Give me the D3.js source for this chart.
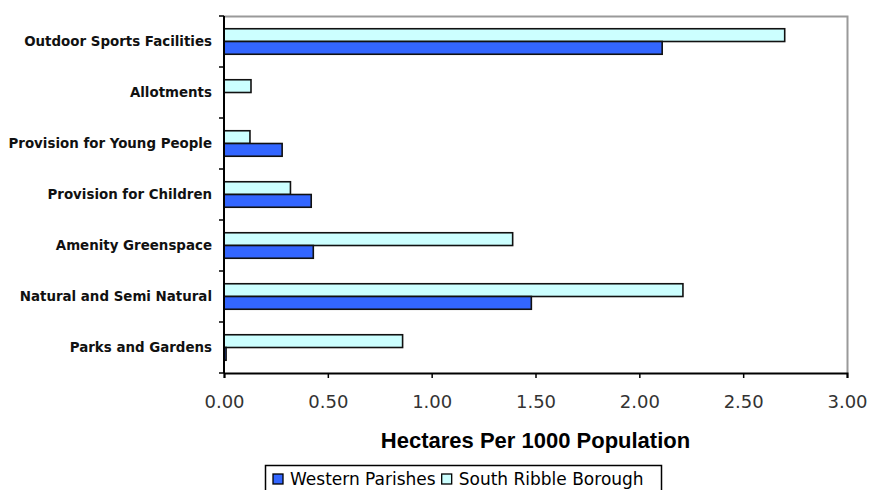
<!DOCTYPE html>
<html>
<head>
<meta charset="utf-8">
<script src="https://cdn.jsdelivr.net/npm/d3@7"></script>
<style>
  html, body { margin: 0; padding: 0; background: #fff; }
  svg { display: block; }
</style>
</head>
<body>
<svg id="chart" width="870" height="490"></svg>
<script>
const categories = [
  "Outdoor Sports Facilities",
  "Allotments",
  "Provision for Young People",
  "Provision for Children",
  "Amenity Greenspace",
  "Natural and Semi Natural",
  "Parks and Gardens"
];
const seriesNames = ["South Ribble Borough", "Western Parishes"];
const southRibble = [2.70, 0.13, 0.125, 0.32, 1.39, 2.21, 0.86];
const westernParishes = [2.11, 0.00, 0.28, 0.42, 0.43, 1.48, 0.01];
const xTicks = [0, 0.5, 1.0, 1.5, 2.0, 2.5, 3.0];
const axisTitle = "Hectares Per 1000 Population";
const legendNames = ["Western Parishes", "South Ribble Borough"];
const colors = { "Western Parishes": "#3366FF", "South Ribble Borough": "#CCFFFF" };

(function () {
const svg = d3.select("#chart");
const pLeft = 224, pRight = 847, pTop = 16, pBottom = 373;

const x = d3.scaleLinear().domain([0, 3]).range([pLeft, pRight]);
const y = d3.scaleBand().domain(categories).range([pTop, pBottom]).paddingInner(0.5).paddingOuter(0.25);
const ySub = d3.scaleBand().domain(seriesNames).range([0, y.bandwidth()]);

// plot border (grey top/right)
svg.append("path")
  .attr("d", `M${pLeft},${pTop + 0.5}H${pRight + 0.5}V${pBottom}`)
  .attr("fill", "none").attr("stroke", "#9a9a9a").attr("stroke-width", 2);

const rows = categories.map((c, i) => ({
  cat: c,
  vals: [
    { s: "South Ribble Borough", v: southRibble[i] },
    { s: "Western Parishes", v: westernParishes[i] }
  ]
}));

const g = svg.append("g");
rows.forEach(r => {
  r.vals.forEach(d => {
    if (d.v <= 0) return;
    g.append("rect")
      .attr("x", x(0))
      .attr("y", y(r.cat) + ySub(d.s))
      .attr("width", Math.max(1, x(d.v) - x(0)))
      .attr("height", ySub.bandwidth())
      .attr("fill", colors[d.s])
      .attr("stroke", "#111")
      .attr("stroke-width", 1.6);
  });
});

// y axis
const yAxisG = svg.append("g").attr("transform", `translate(${pLeft},0)`);
yAxisG.append("line").attr("x1", 0).attr("x2", 0).attr("y1", pTop).attr("y2", pBottom)
  .attr("stroke", "#000").attr("stroke-width", 2);
d3.range(categories.length + 1).forEach(i => {
  const yy = pTop + i * (pBottom - pTop) / categories.length;
  yAxisG.append("line").attr("x1", -5).attr("x2", 0).attr("y1", yy).attr("y2", yy)
    .attr("stroke", "#000").attr("stroke-width", 1.5);
});
yAxisG.selectAll("text.cat").data(categories).enter().append("text")
  .attr("class", "cat")
  .attr("x", -12)
  .attr("y", d => y(d) + y.bandwidth() / 2)
  .attr("dy", "0.36em")
  .attr("text-anchor", "end")
  .attr("font-family", "'DejaVu Sans', Verdana, sans-serif")
  .attr("font-size", 13.4)
  .attr("font-weight", "bold")
  .attr("fill", "#111")
  .text(d => d);

// x axis
const xAxis = d3.axisBottom(x).tickValues(xTicks).tickFormat(d3.format(".2f")).tickSize(5);
const xAxisG = svg.append("g").attr("transform", `translate(0,${pBottom})`).call(xAxis);
xAxisG.select(".domain").attr("stroke", "#000").attr("stroke-width", 2);
xAxisG.selectAll(".tick line").attr("stroke", "#000").attr("stroke-width", 1.5);
xAxisG.selectAll(".tick text")
  .attr("y", 35).attr("dy", 0)
  .attr("font-family", "'DejaVu Sans', sans-serif")
  .attr("font-size", 18)
  .attr("fill", "#333");

svg.append("text")
  .attr("x", (pLeft + pRight) / 2)
  .attr("y", 448)
  .attr("text-anchor", "middle")
  .attr("font-family", "Arial, 'Liberation Sans', sans-serif")
  .attr("font-size", 22)
  .attr("font-weight", "bold")
  .attr("fill", "#000")
  .text(axisTitle);

// legend
const lg = svg.append("g").attr("transform", "translate(265,465)");
lg.append("rect").attr("x", 0.5).attr("y", 0.5).attr("width", 396).attr("height", 34)
  .attr("fill", "#fff").attr("stroke", "#000").attr("stroke-width", 1.5);
let lx = 8;
legendNames.forEach(n => {
  lg.append("rect").attr("x", lx).attr("y", 9).attr("width", 10).attr("height", 10)
    .attr("fill", colors[n]).attr("stroke", "#000").attr("stroke-width", 1.3);
  const t = lg.append("text").attr("x", lx + 17).attr("y", 20)
    .attr("font-family", "'DejaVu Sans', sans-serif")
    .attr("font-size", 17).attr("fill", "#000").text(n);
  lx += 17 + t.node().getComputedTextLength() + 6;
});
})();
</script>
</body>
</html>
